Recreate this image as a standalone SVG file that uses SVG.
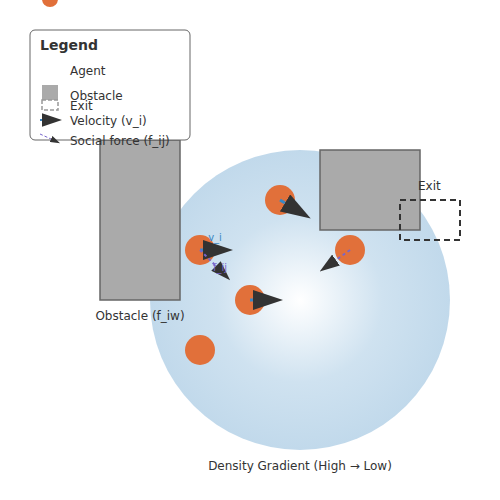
<svg xmlns="http://www.w3.org/2000/svg" width="500" height="500" viewBox="0 0 500 500">
<defs>
<radialGradient id="density" cx="300" cy="300" r="150" gradientUnits="userSpaceOnUse">
<stop offset="0" stop-color="#ffffff"/>
<stop offset="0.55" stop-color="#cfe2f0"/>
<stop offset="1" stop-color="#c1d9eb"/>
</radialGradient>
<marker id="arrow" viewBox="0 0 30 20" markerWidth="10" markerHeight="6.667" refX="0" refY="10" orient="auto" markerUnits="strokeWidth">
<path d="M0,0 L30,10 L0,20 z" fill="#333333"/>
</marker>
<style>
text{font-family:"DejaVu Sans","Liberation Sans",sans-serif;font-size:12px;fill:#333333}
.agent{fill:#e1703a}
.obstacle{fill:#aaaaaa;stroke:#666666;stroke-width:1.5}
.exit{fill:none;stroke:#333333;stroke-width:2;stroke-dasharray:6,4}
.vel{stroke:#3a87c4;stroke-width:3;marker-end:url(#arrow)}
.soc{stroke:#7766cc;stroke-width:2;stroke-dasharray:3,3;marker-end:url(#arrow)}
</style>
</defs>
<circle id="density-field" cx="300" cy="300" r="150" fill="url(#density)"/>
<g id="obstacle-left"><rect class="obstacle" x="100" y="140" width="80" height="160"/></g>
<g id="obstacle-right"><rect class="obstacle" x="320" y="150" width="100" height="80"/></g>
<g id="exit"><rect class="exit" x="400" y="200" width="60" height="40"/><text x="418" y="190">Exit</text></g>
<g id="agent-1"><circle class="agent" cx="280" cy="200" r="15"/></g>
<g id="agent-2"><circle class="agent" cx="200" cy="250" r="15"/></g>
<g id="agent-3"><circle class="agent" cx="350" cy="250" r="15"/></g>
<g id="agent-4"><circle class="agent" cx="250" cy="300" r="15"/></g>
<g id="agent-5"><circle class="agent" cx="200" cy="350" r="15"/></g>
<g id="connectors">
<line class="vel" x1="280" y1="200" x2="285" y2="203"/>
<line class="vel" x1="200" y1="250" x2="203" y2="250"/>
<line class="soc" x1="200" y1="250" x2="216" y2="266"/>
<line class="soc" x1="350" y1="250" x2="336" y2="260"/>
<line class="vel" x1="250" y1="300" x2="253" y2="300"/>
</g>
<text x="215" y="241" text-anchor="middle" style="font-size:10px;fill:#3a87c4">v_i</text>
<text x="220" y="271" text-anchor="middle" style="font-size:10px;fill:#7766cc">f_ij</text>
<text x="140" y="320" text-anchor="middle">Obstacle (f_iw)</text>
<text x="300" y="470" text-anchor="middle">Density Gradient (High → Low)</text>
<g id="legend">
<rect x="30" y="30" width="160" height="110" rx="5" fill="#ffffff" stroke="#666666" stroke-width="1"/>
<text x="40" y="50" style="font-size:14px;font-weight:bold">Legend</text>
<circle class="agent" cx="50" cy="-1" r="8"/>
<text x="70" y="75">Agent</text>
<rect x="42" y="85" width="16" height="15" fill="#aaaaaa"/>
<text x="70" y="100">Obstacle</text>
<rect x="42" y="100" width="16" height="10" fill="none" stroke="#999999" stroke-width="1.5" stroke-dasharray="4,2"/>
<text x="70" y="110">Exit</text>
<line x1="40" y1="120" x2="42" y2="120" stroke="#3a87c4" stroke-width="2" marker-end="url(#arrow)"/>
<text x="70" y="125">Velocity (v_i)</text>
<line x1="40" y1="134" x2="51" y2="139" stroke="#7766cc" stroke-width="1" stroke-dasharray="3,2" marker-end="url(#arrow)"/>
<text x="70" y="145">Social force (f_ij)</text>
</g>
</svg>
